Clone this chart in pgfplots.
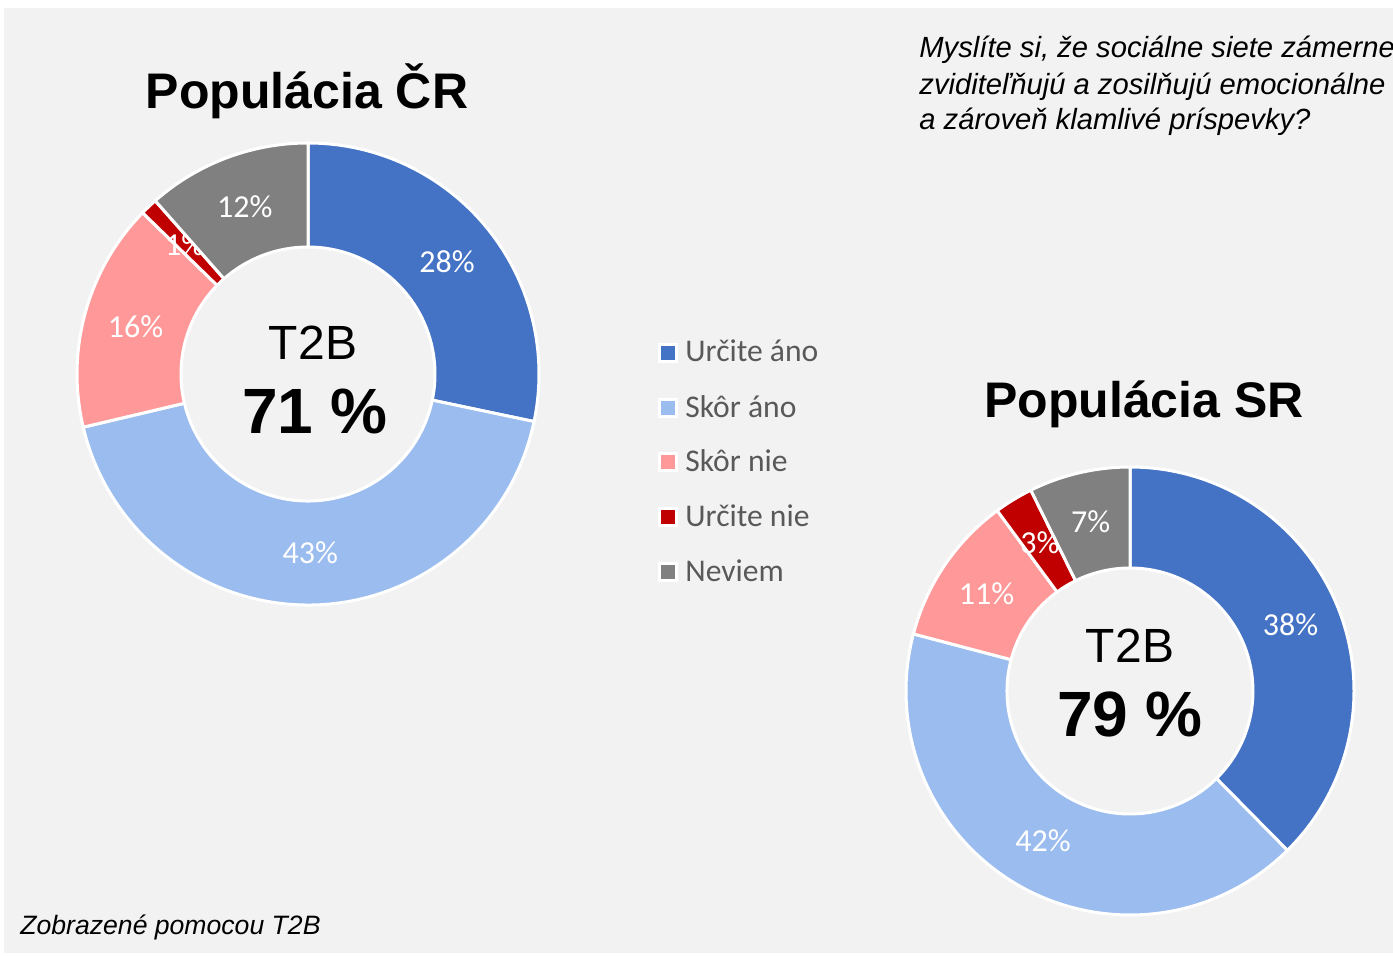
\documentclass[border=0pt]{standalone}
\usepackage{pgfplots}
\usepackage{pgfplotstable}
\pgfplotsset{compat=1.18}
\usepackage{fontspec}
\setmainfont{Liberation Sans}
\newfontfamily\calibri{Carlito}

\definecolor{bg}{HTML}{F2F2F2}
\definecolor{cA}{HTML}{4472C4}
\definecolor{cB}{HTML}{9BBCEF}
\definecolor{cC}{HTML}{FF9999}
\definecolor{cD}{HTML}{C00000}
\definecolor{cE}{HTML}{808080}
\definecolor{legtext}{HTML}{595959}

\tikzset{lab/.style={text=white, font=\calibri\fontsize{16}{19}\selectfont, inner sep=0pt}}

% share of each answer (percent), label shown, colour
\pgfplotstableread{
val  lab col
28.3 28  cA
43.0 43  cB
16.0 16  cC
1.2  1   cD
11.5 12  cE
}\tableCR
\pgfplotstableread{
val  lab col
37.6 38  cA
41.5 42  cB
10.8 11  cC
2.8  3   cD
7.3  7   cE
}\tableSR

% #1 table, #2 cx, #3 cy, #4 outer r, #5 inner r, #6 label r (all in px; 1px = 0.5pt)
\newcommand\donut[6]{%
  \pgfplotstablegetrowsof{#1}%
  \pgfmathtruncatemacro\nrows{\pgfplotsretval-1}%
  \def\cum{0}%
  \pgfmathsetmacro\ro{#4*0.5}%
  \pgfmathsetmacro\ri{#5*0.5}%
  \pgfmathsetmacro\rl{#6*0.5}%
  \pgfmathsetmacro\rd{(#4-#5)*0.5}%
  \pgfplotsforeachungrouped \i in {0,...,\nrows}{%
    \pgfplotstablegetelem{\i}{val}\of{#1}\let\v\pgfplotsretval
    \pgfplotstablegetelem{\i}{lab}\of{#1}\let\lb\pgfplotsretval
    \pgfplotstablegetelem{\i}{col}\of{#1}\let\c\pgfplotsretval
    \pgfmathsetmacro\aa{90-3.6*\cum}%
    \pgfmathsetmacro\ab{90-3.6*(\cum+\v)}%
    \pgfmathsetmacro\abb{\ab+180}%
    \pgfmathsetmacro\am{(\aa+\ab)/2}%
    \pgfmathsetmacro\cum{\cum+\v}%
    \edef\temp{\noexpand\fill[\c, draw=white, line width=1.5pt, line join=miter]
      (axis cs:#2,#3) ++(\aa:\ro pt) arc[start angle=\aa, end angle=\ab, radius=\ro pt]
      -- ++(\abb:\rd pt) arc[start angle=\ab, end angle=\aa, radius=\ri pt] -- cycle;
      \noexpand\path (axis cs:#2,#3) ++(\am:\rl pt) node[lab] {\lb\noexpand\%};}%
    \temp
  }%
}
% legend entry: #1 centre y (px, from bottom), #2 colour, #3 text
\newcommand\legentry[3]{%
  \fill[white] (axis cs:657.5,#1-10) rectangle (axis cs:677.5,#1+10);
  \fill[#2] (axis cs:660.5,#1-7) rectangle (axis cs:674.5,#1+7);
  \node[anchor=base west, inner sep=0pt, text=legtext, font=\calibri\fontsize{15.8}{18}\selectfont] at (axis cs:685,#1-9) {#3};
}

\begin{document}
\begin{tikzpicture}
\path[use as bounding box] (0,0) rectangle (696.5pt,477.5pt);
\begin{axis}[
  hide axis, x=0.5pt, y=0.5pt,
  xmin=0, xmax=1393, ymin=0, ymax=955,
  scale only axis, clip=false,
  at={(0,0)}, anchor=south west,
]
\fill[bg] (axis cs:4,2) rectangle (axis cs:1393,947);

\donut{\tableCR}{308}{581}{231}{127}{179}
\donut{\tableSR}{1130}{264}{224}{123}{173.5}

% titles
\node[anchor=base, font=\fontsize{25}{30}\selectfont\bfseries] at (axis cs:307,846) {Populácia ČR};
\node[anchor=base, font=\fontsize{25}{30}\selectfont\bfseries] at (axis cs:1144,538) {Populácia SR};

% centre texts
\node[anchor=base, font=\fontsize{24}{28}\selectfont] at (axis cs:313,596) {T2B};
\node[anchor=base, font=\fontsize{32}{38}\selectfont\bfseries] at (axis cs:315,522) {71 \%};
\node[anchor=base, font=\fontsize{24}{28}\selectfont] at (axis cs:1130,293) {T2B};
\node[anchor=base, font=\fontsize{32}{38}\selectfont\bfseries] at (axis cs:1130,219) {79 \%};

% legend
\legentry{602}{cA}{Určite áno}
\legentry{547}{cB}{Skôr áno}
\legentry{493}{cC}{Skôr nie}
\legentry{438}{cD}{Určite nie}
\legentry{383}{cE}{Neviem}

% question
\node[anchor=base west, inner sep=0pt, font=\fontsize{14.6}{17}\selectfont\itshape] at (axis cs:919,897) {Myslíte si, že sociálne siete zámerne};
\node[anchor=base west, inner sep=0pt, font=\fontsize{14.6}{17}\selectfont\itshape] at (axis cs:919,860) {zviditeľňujú a zosilňujú emocionálne};
\node[anchor=base west, inner sep=0pt, font=\fontsize{14.6}{17}\selectfont\itshape] at (axis cs:919,825) {a zároveň klamlivé príspevky?};

% footer
\node[anchor=base west, inner sep=0pt, font=\fontsize{13.3}{16}\selectfont\itshape] at (axis cs:20,21) {Zobrazené pomocou T2B};
\end{axis}
\end{tikzpicture}
\end{document}
